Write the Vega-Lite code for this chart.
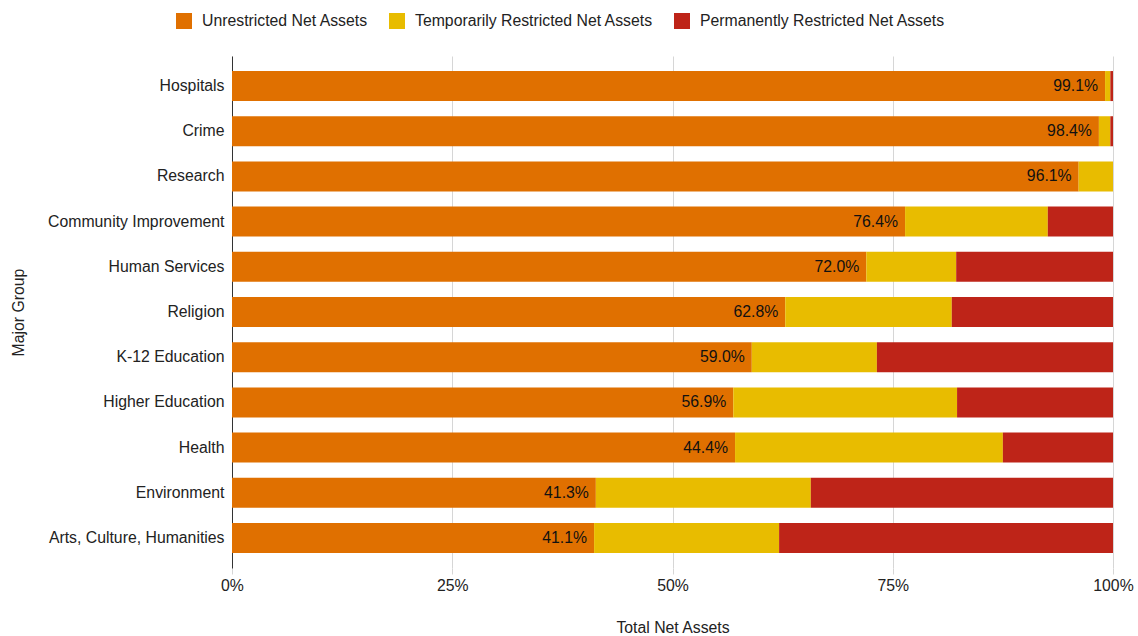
{
  "$schema": "https://vega.github.io/schema/vega-lite/v6.json",
  "autosize": {"type": "none"},
  "padding": {"left": 232, "top": 56, "right": 25, "bottom": 68},
  "width": 881,
  "height": 512,
  "background": "white",
  "config": {
    "font": "Liberation Sans",
    "view": {"stroke": null}
  },
  "data": {
    "values": [
      {"group": "Hospitals", "cat": "Unrestricted Net Assets", "k": 1, "value": 0.991, "label": "99.1%"},
      {"group": "Hospitals", "cat": "Temporarily Restricted Net Assets", "k": 2, "value": 0.006},
      {"group": "Hospitals", "cat": "Permanently Restricted Net Assets", "k": 3, "value": 0.003},
      {"group": "Crime", "cat": "Unrestricted Net Assets", "k": 1, "value": 0.984, "label": "98.4%"},
      {"group": "Crime", "cat": "Temporarily Restricted Net Assets", "k": 2, "value": 0.013},
      {"group": "Crime", "cat": "Permanently Restricted Net Assets", "k": 3, "value": 0.003},
      {"group": "Research", "cat": "Unrestricted Net Assets", "k": 1, "value": 0.961, "label": "96.1%"},
      {"group": "Research", "cat": "Temporarily Restricted Net Assets", "k": 2, "value": 0.039},
      {"group": "Research", "cat": "Permanently Restricted Net Assets", "k": 3, "value": 0.0},
      {"group": "Community Improvement", "cat": "Unrestricted Net Assets", "k": 1, "value": 0.764, "label": "76.4%"},
      {"group": "Community Improvement", "cat": "Temporarily Restricted Net Assets", "k": 2, "value": 0.162},
      {"group": "Community Improvement", "cat": "Permanently Restricted Net Assets", "k": 3, "value": 0.074},
      {"group": "Human Services", "cat": "Unrestricted Net Assets", "k": 1, "value": 0.72, "label": "72.0%"},
      {"group": "Human Services", "cat": "Temporarily Restricted Net Assets", "k": 2, "value": 0.102},
      {"group": "Human Services", "cat": "Permanently Restricted Net Assets", "k": 3, "value": 0.178},
      {"group": "Religion", "cat": "Unrestricted Net Assets", "k": 1, "value": 0.628, "label": "62.8%"},
      {"group": "Religion", "cat": "Temporarily Restricted Net Assets", "k": 2, "value": 0.189},
      {"group": "Religion", "cat": "Permanently Restricted Net Assets", "k": 3, "value": 0.183},
      {"group": "K-12 Education", "cat": "Unrestricted Net Assets", "k": 1, "value": 0.59, "label": "59.0%"},
      {"group": "K-12 Education", "cat": "Temporarily Restricted Net Assets", "k": 2, "value": 0.142},
      {"group": "K-12 Education", "cat": "Permanently Restricted Net Assets", "k": 3, "value": 0.268},
      {"group": "Higher Education", "cat": "Unrestricted Net Assets", "k": 1, "value": 0.569, "label": "56.9%"},
      {"group": "Higher Education", "cat": "Temporarily Restricted Net Assets", "k": 2, "value": 0.254},
      {"group": "Higher Education", "cat": "Permanently Restricted Net Assets", "k": 3, "value": 0.177},
      {"group": "Health", "cat": "Unrestricted Net Assets", "k": 1, "value": 0.571, "label": "44.4%"},
      {"group": "Health", "cat": "Temporarily Restricted Net Assets", "k": 2, "value": 0.304},
      {"group": "Health", "cat": "Permanently Restricted Net Assets", "k": 3, "value": 0.125},
      {"group": "Environment", "cat": "Unrestricted Net Assets", "k": 1, "value": 0.413, "label": "41.3%"},
      {"group": "Environment", "cat": "Temporarily Restricted Net Assets", "k": 2, "value": 0.244},
      {"group": "Environment", "cat": "Permanently Restricted Net Assets", "k": 3, "value": 0.343},
      {"group": "Arts, Culture, Humanities", "cat": "Unrestricted Net Assets", "k": 1, "value": 0.411, "label": "41.1%"},
      {"group": "Arts, Culture, Humanities", "cat": "Temporarily Restricted Net Assets", "k": 2, "value": 0.21},
      {"group": "Arts, Culture, Humanities", "cat": "Permanently Restricted Net Assets", "k": 3, "value": 0.379}
    ]
  },
  "encoding": {
    "y": {
      "field": "group",
      "type": "nominal",
      "sort": null,
      "scale": {"paddingInner": 0.336, "paddingOuter": 0.333},
      "axis": {
        "title": "Major Group",
        "titleFontSize": 15.8,
        "titleFontWeight": "normal",
        "titleColor": "#222",
        "titlePadding": 21,
        "labelFontSize": 15.8,
        "labelColor": "#222",
        "labelPadding": 8,
        "labelLimit": 300,
        "ticks": false,
        "domainColor": "#333",
        "domainWidth": 1
      }
    }
  },
  "layer": [
    {
      "mark": {"type": "bar"},
      "encoding": {
        "x": {
          "field": "value",
          "type": "quantitative",
          "stack": "zero",
          "scale": {"domain": [0, 1], "nice": false},
          "axis": {
            "title": "Total Net Assets",
            "titleFontSize": 15.8,
            "titleFontWeight": "normal",
            "titleColor": "#222",
            "titlePadding": 28,
            "format": ".0%",
            "values": [0, 0.25, 0.5, 0.75, 1],
            "labelFontSize": 15.8,
            "labelColor": "#222",
            "labelPadding": 4,
            "labelFlush": false,
            "domain": false,
            "grid": true,
            "gridColor": "#d6d6d6",
            "tickColor": "#d6d6d6",
            "tickSize": 6
          }
        },
        "color": {
          "field": "cat",
          "type": "nominal",
          "scale": {
            "domain": ["Unrestricted Net Assets", "Temporarily Restricted Net Assets", "Permanently Restricted Net Assets"],
            "range": ["#E07000", "#E8BC00", "#BE2418"]
          },
          "legend": {
            "title": null,
            "orient": "none",
            "direction": "horizontal",
            "legendX": -56,
            "legendY": -43,
            "symbolType": "square",
            "symbolSize": 256,
            "symbolStrokeWidth": 0,
            "labelFontSize": 15.8,
            "labelColor": "#222",
            "labelOffset": 10,
            "labelLimit": 400,
            "columnPadding": 21
          }
        },
        "order": {"field": "k", "type": "quantitative"}
      }
    },
    {
      "transform": [{"filter": "datum.k == 1"}],
      "mark": {"type": "text", "align": "right", "dx": -7, "fontSize": 15.8, "color": "#111"},
      "encoding": {
        "x": {"field": "value", "type": "quantitative"},
        "text": {"field": "label"}
      }
    }
  ]
}
